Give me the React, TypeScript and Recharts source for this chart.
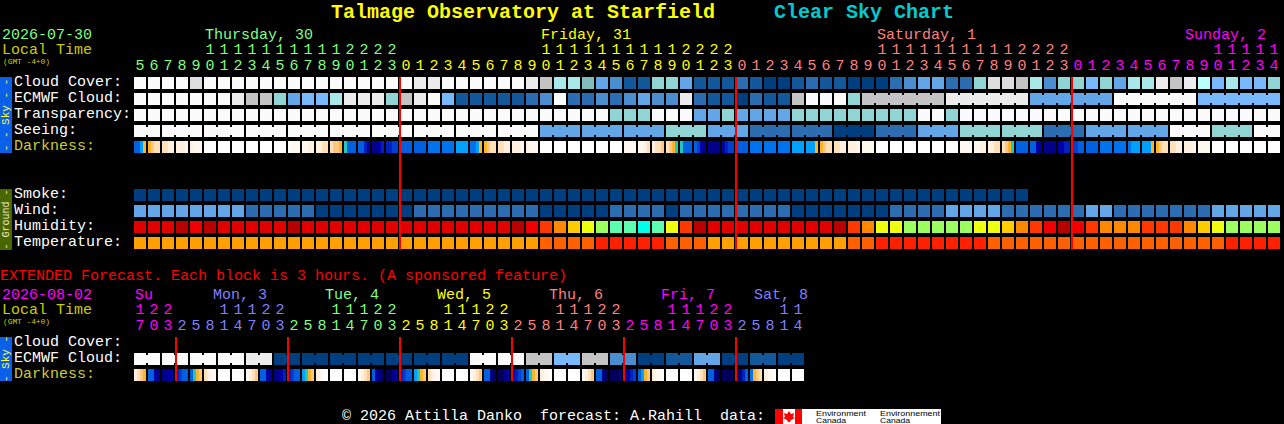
import { ScatterChart, Scatter, XAxis, YAxis } from "recharts";

// hour labels, one per block
const mainHours = [
  5, 6, 7, 8, 9, 10, 11, 12, 13, 14, 15, 16, 17, 18, 19, 20, 21, 22, 23,
  0, 1, 2, 3, 4, 5, 6, 7, 8, 9, 10, 11, 12, 13, 14, 15, 16, 17, 18, 19, 20, 21, 22, 23,
  0, 1, 2, 3, 4, 5, 6, 7, 8, 9, 10, 11, 12, 13, 14, 15, 16, 17, 18, 19, 20, 21, 22, 23,
  0, 1, 2, 3, 4, 5, 6, 7, 8, 9, 10, 11, 12, 13, 14,
];
const extHours = [
  17, 20, 23,
  2, 5, 8, 11, 14, 17, 20, 23,
  2, 5, 8, 11, 14, 17, 20, 23,
  2, 5, 8, 11, 14, 17, 20, 23,
  2, 5, 8, 11, 14, 17, 20, 23,
  2, 5, 8, 11, 14, 17, 20, 23,
  2, 5, 8, 11, 14,
];

const mainDayNames = ["Thursday, 30", "Friday, 31", "Saturday, 1", "Sunday, 2"];
const mainDayStarts = [0, 19, 43, 67];
const mainDayColors = ["#80ff80", "#ffff00", "#ff8080", "#ff00ff"];
const mainDayX = [205, 541, 877, 1185];

const extDayNames = ["Su", "Mon, 3", "Tue, 4", "Wed, 5", "Thu, 6", "Fri, 7", "Sat, 8"];
const extDayStarts = [0, 3, 11, 19, 27, 35, 43];
const extDayColors = ["#ff00ff", "#8080ff", "#80ff80", "#ffff00", "#ff8080", "#ff00ff", "#8080ff"];
const extDayX = [135, 213, 325, 437, 549, 661, 754];

// midnights, as block indexes
const mainMidnights = [19, 43, 67];
const extMidnights = [3, 11, 19, 27, 35, 43];

const skyColors = [
  "#003f7f", "#13589a", "#2c6cb0", "#4b8ed0", "#63a6e8", "#77b9fc", "#90d4d4",
  "#a8e8e8", "#c4c4c4", "#ececec", "#fbfbfb", "#80bcbc", "#b8ffff", "#dddddd",
];
const humidityColors = [
  "#b80000", "#e00000", "#f00000", "#ff3800", "#ff8800", "#ffcc00", "#eeff10", "#9cff60", "#5cffb0", "#00ffe8",
];
const temperatureColors = ["#ffa000", "#ff6000", "#ff2000"];
const darknessColors = [
  "#00005a", "#000088", "#0000a8", "#0020c0", "#0040d0", "#0060e0", "#0072ee", "#00a0ff",
  "#20c8c0", "#ffb428", "#ffc880", "#ffe0b8", "#fff0e0", "#fff8f0", "#ffffff",
];

const cloudCover = [
  10, 10, 10, 10, 13, 10, 10, 10, 10, 10,
  10, 10, 10, 10, 10, 10, 10, 10, 10, 10,
  9, 9, 10, 10, 10, 10, 10, 10, 9, 8,
  7, 7, 11, 4, 3, 1, 1, 6, 6, 4,
  1, 1, 1, 2, 1, 0, 0, 1, 2, 1,
  1, 0, 0, 0, 2, 3, 4, 4, 2, 2,
  6, 13, 13, 8, 7, 3, 6, 6, 5, 6,
  4, 7, 7, 9, 8, 9, 12, 5, 7, 5,
  5, 6,
];
const ecmwfCloud = [
  10, 10, 10, 10, 10, 10, 10, 9, 8, 8,
  6, 4, 5, 5, 7, 9, 9, 9, 6, 8,
  9, 10, 5, 1, 1, 1, 1, 1, 2, 3,
  10, 2, 2, 3, 2, 3, 4, 3, 3, 9,
  2, 1, 1, 0, 2, 1, 1, 8, 10, 10,
  10, 6, 8, 8, 8, 8, 8, 8, 9, 9,
  9, 9, 9, 9, 4, 4, 4, 4, 4, 4,
  10, 10, 10, 10, 10, 10, 5, 5, 5, 5,
  5, 5,
];
const transparency = [
  10, 10, 10, 10, 10, 10, 10, 10, 10, 10,
  10, 10, 10, 10, 10, 10, 10, 10, 10, 10,
  10, 10, 10, 10, 10, 10, 10, 10, 10, 10,
  10, 10, 10, 10, 6, 6, 6, 10, 10, 10,
  4, 4, 6, 4, 4, 4, 4, 6, 6, 6,
  6, 6, 6, 6, 6, 6, 10, 10, 6, 10,
  10, 10, 10, 10, 10, 10, 10, 10, 10, 10,
  10, 10, 10, 10, 10, 10, 10, 10, 10, 10,
  10, 10,
];
const seeing = [
  10, 10, 10, 10, 10, 10, 10, 10, 10, 10,
  10, 10, 10, 10, 10, 10, 10, 10, 10, 10,
  10, 10, 10, 10, 10, 10, 10, 10, 10, 4,
  4, 4, 4, 4, 4, 4, 4, 4, 6, 6,
  6, 4, 4, 4, 2, 2, 2, 2, 2, 2,
  0, 0, 0, 2, 2, 2, 4, 4, 4, 6,
  6, 6, 6, 6, 6, 2, 2, 2, 4, 4,
  4, 4, 4, 4, 10, 10, 10, 6, 6, 6,
  10, 10,
];
const darkness = [
  "5579", "9abb", "bbcc", "cccd", "cddd", "eeee", "eeee", "eeee", "eeee", "eeee",
  "eeee", "eddd", "ddcc", "ccbb", "baa9", "8555", "5532", "1123", "3344", "5555",
  "5555", "6666", "6666", "7777", "6679", "9abb", "bbcc", "cccd", "cddd", "eeee",
  "eeee", "eeee", "eeee", "eeee", "eeee", "dddd", "ddcb", "cbba", "ba98", "8555",
  "5421", "1111", "2344", "5555", "6666", "6666", "6666", "7777", "7779", "9abb",
  "bbcc", "cccd", "dddd", "eeee", "eeee", "eeee", "eeee", "eeee", "eeee", "dddd",
  "ddcc", "ccbb", "ba98", "5555", "5521", "1111", "2233", "4455", "5555", "6666",
  "6666", "6777", "7779", "9abb", "bbcc", "cccd", "dddd", "eeee", "eeee", "eeee",
  "eeee", "eeee",
];
const smoke = [
  0, 0, 0, 0, 0, 0, 0, 0, 0, 0, 0, 0, 0, 0, 0, 0,
  0, 0, 0, 0, 0, 0, 0, 0, 0, 0, 0, 0, 0, 0, 0, 0,
  0, 0, 0, 0, 0, 0, 0, 0, 0, 0, 0, 0, 0, 0, 0, 0,
  0, 0, 0, 0, 0, 0, 0, 0, 0, 0, 0, 0, 0, 0, 0, 0,
];
const wind = [
  4, 4, 4, 4, 4, 4, 4, 4, 2, 2,
  2, 2, 2, 0, 0, 0, 0, 0, 0, 0,
  2, 2, 2, 2, 2, 2, 2, 2, 2, 0,
  0, 0, 0, 0, 2, 2, 2, 2, 0, 2,
  2, 2, 2, 2, 2, 2, 2, 0, 0, 0,
  0, 0, 0, 0, 2, 2, 2, 2, 4, 4,
  4, 4, 2, 2, 2, 2, 2, 2, 4, 4,
  2, 2, 2, 2, 2, 2, 2, 4, 4, 4,
  4, 4,
];
const humidity = [
  1, 1, 1, 0, 2, 0, 1, 1, 1, 1,
  1, 0, 1, 1, 1, 1, 1, 1, 1, 1,
  1, 1, 1, 1, 1, 1, 1, 0, 2, 3,
  4, 5, 6, 7, 8, 8, 9, 8, 6, 3,
  0, 1, 1, 1, 1, 1, 1, 1, 1, 1,
  0, 3, 4, 6, 6, 7, 7, 7, 7, 7,
  6, 6, 5, 4, 3, 2, 0, 2, 3, 4,
  4, 4, 3, 3, 3, 4, 5, 6, 7, 7,
  7, 7,
];
const temperature = [
  0, 0, 0, 0, 0, 0, 0, 0, 0, 0,
  0, 0, 0, 0, 0, 0, 0, 0, 0, 0,
  0, 0, 0, 0, 0, 0, 0, 0, 0, 1,
  1, 1, 1, 2, 2, 2, 2, 2, 1, 1,
  1, 0, 0, 0, 0, 0, 0, 0, 0, 0,
  0, 1, 1, 2, 2, 2, 2, 2, 2, 2,
  2, 1, 1, 1, 1, 1, 1, 1, 1, 1,
  1, 1, 1, 1, 1, 1, 1, 1, 2, 2,
  2, 2,
];

const extEcmwf = [
  10, 10, 10, 10, 10, 10, 10, 10, 9, 9,
  0, 0, 0, 0, 0, 0, 0, 0, 0, 0,
  0, 0, 0, 0, 10, 10, 10, 10, 8, 8,
  5, 5, 8, 8, 3, 3, 0, 0, 1, 1,
  4, 4, 0, 0, 1, 1, 0, 0,
];
const extDarkness = [
  "cba9", "5521", "1122", "3455", "589a", "bcdd", "eeee", "eeee", "dcba", "5521",
  "1123", "3455", "789a", "cdee", "eeee", "eeee", "dcba", "5210", "0012", "3455",
  "789a", "bcdd", "eeee", "eeee", "dcba", "5510", "0012", "2345", "589a", "cdde",
  "eeee", "eeee", "dcba", "5510", "0001", "1234", "579a", "cdde", "eeee", "eeee",
  "dcba", "5510", "0000", "0135", "69ab", "cdde", "eeee", "eeee",
];

const mainLabels: Record<number, string> = {
  0: "Cloud Cover:", 1: "ECMWF Cloud:", 2: "Transparency:", 3: "Seeing:", 4: "Darkness:",
  7: "Smoke:", 8: "Wind:", 9: "Humidity:", 10: "Temperature:",
};
const extLabels: Record<number, string> = { 0: "Cloud Cover:", 1: "ECMWF Cloud:", 2: "Darkness:" };

const MONO = "'Liberation Mono', monospace";
const BLOCK = 12;
const PITCH = 14;

// blocks that share a forecast step are tied together with a thinner bridge
function toPoints(row: number, values: number[], colors: string[], from = Infinity, span = 1) {
  return values.map((v, i) => ({
    i,
    row,
    fill: colors[v],
    join: i >= from && i < values.length - 1 && (i - from + 1) % span !== 0,
  }));
}

function toDarkPoints(row: number, values: string[]) {
  return values.map((v, i) => ({
    i,
    row,
    stripes: v.split("").map((c) => darknessColors[parseInt(c, 16)]),
  }));
}

function BlockShape(props: any) {
  const { cx, cy, payload } = props;
  return (
    <g>
      <rect x={cx} y={cy} width={BLOCK} height={BLOCK} fill={payload.fill} />
      {payload.join && <rect x={cx + BLOCK} y={cy + 2} width={PITCH - BLOCK} height={BLOCK - 4} fill={payload.fill} />}
    </g>
  );
}

function DarkShape(props: any) {
  const { cx, cy, payload } = props;
  const w = BLOCK / payload.stripes.length;
  return (
    <g>
      {payload.stripes.map((c: string, k: number) => (
        <rect key={k} x={cx + k * w} y={cy} width={w} height={BLOCK} fill={c} shapeRendering="crispEdges" />
      ))}
    </g>
  );
}

const NoDot = () => <g />;

function dayColor(i: number, starts: number[], colors: string[]) {
  let c = colors[0];
  starts.forEach((s, k) => {
    if (i >= s) c = colors[k];
  });
  return c;
}

function Strip(props: {
  top: number;
  headerHeight: number;
  rows: number;
  lineEnd: number;
  hours: number[];
  starts: number[];
  colors: string[];
  midnights: number[];
  labels: Record<number, string>;
  children: any;
}) {
  const { top, headerHeight, rows, lineEnd, hours, starts, colors, midnights, labels } = props;
  const hourTick = (t: any) => {
    const i = t.payload.value;
    if (i >= hours.length) return <g />;
    const h = hours[i];
    const fill = dayColor(i, starts, colors);
    return (
      <g>
        {h >= 10 && (
          <text x={t.x + 6} y={headerHeight - 23} textAnchor="middle" fill={fill} fontFamily={MONO} fontSize={15}>
            {Math.floor(h / 10)}
          </text>
        )}
        <text x={t.x + 6} y={headerHeight - 7} textAnchor="middle" fill={fill} fontFamily={MONO} fontSize={15}>
          {h % 10}
        </text>
      </g>
    );
  };
  const rowTick = (t: any) => {
    const label = labels[t.payload.value];
    return (
      <text x={14} y={t.y + 9} fill={label === "Darkness:" ? "#cccc33" : "#ffffff"} fontFamily={MONO} fontSize={15}>
        {label}
      </text>
    );
  };
  return (
    <div style={{ position: "absolute", left: 0, top }}>
      <ScatterChart
        width={1284}
        height={headerHeight + rows * 16}
        margin={{ top: 0, right: 2, bottom: 0, left: 0 }}
      >
        <XAxis
          type="number"
          dataKey="i"
          domain={[0, 82]}
          orientation="top"
          height={headerHeight}
          ticks={hours.map((_, i) => i)}
          interval={0}
          tick={hourTick}
          axisLine={false}
          tickLine={false}
        />
        <YAxis
          type="number"
          dataKey="row"
          domain={[0, rows]}
          reversed
          width={134}
          ticks={Object.keys(labels).map(Number)}
          interval={0}
          tick={rowTick}
          axisLine={false}
          tickLine={false}
        />
        {props.children}
        {midnights.map((m) => (
          <Scatter
            key={m}
            data={[
              { i: m, row: 0 },
              { i: m, row: lineEnd },
            ]}
            line={{ stroke: "#ff0000", strokeWidth: 2 }}
            shape={NoDot}
            isAnimationActive={false}
          />
        ))}
      </ScatterChart>
    </div>
  );
}

function Label(props: { x: number; y: number; fill: string; size?: number; bold?: boolean; children: any; width?: number }) {
  return (
    <text
      x={props.x}
      y={props.y}
      fill={props.fill}
      fontFamily={MONO}
      fontSize={props.size ?? 15}
      fontWeight={props.bold ? 700 : 400}
      textLength={props.width}
      style={{ whiteSpace: "pre" }}
    >
      {props.children}
    </text>
  );
}

function SideTag(props: { y: number; height: number; fill: string; color: string; text: string; size: number }) {
  const cy = props.y + props.height / 2;
  return (
    <g>
      <rect x={0} y={props.y} width={12} height={props.height} fill={props.fill} />
      <text
        x={6}
        y={cy}
        transform={`rotate(-90 6 ${cy})`}
        textAnchor="middle"
        dominantBaseline="central"
        fill={props.color}
        fontFamily={MONO}
        fontSize={props.size}
        style={{ whiteSpace: "pre" }}
      >
        {props.text}
      </text>
    </g>
  );
}

function LogoText(props: { x: number; y: number; width: number; children: any }) {
  return (
    <text
      x={props.x}
      y={props.y}
      fontFamily="'Liberation Sans'"
      fontSize={8}
      textLength={props.width}
      lengthAdjust="spacingAndGlyphs"
      fill="#000"
    >
      {props.children}
    </text>
  );
}

export default function App() {
  return (
    <div style={{ position: "fixed", left: 0, top: 0, width: 1284, height: 424, background: "#000", overflow: "hidden" }}>
      <svg width={1284} height={424} style={{ position: "absolute", left: 0, top: 0 }}>
        <Label x={331} y={18} fill="#ffff00" size={20} bold>Talmage Observatory at Starfield</Label>
        <Label x={774} y={18} fill="#00ccd0" size={20} bold>Clear Sky Chart</Label>

        <Label x={2} y={39} fill="#80ff80">2026-07-30</Label>
        <Label x={2} y={54} fill="#cccc00">Local Time</Label>
        <Label x={3} y={64} fill="#cccc00" size={8} width={47}>(GMT -4+0)</Label>
        {mainDayNames.map((d, k) => (
          <Label key={d} x={mainDayX[k]} y={39} fill={mainDayColors[k]}>{d}</Label>
        ))}

        <SideTag y={77} height={76} fill="#0a60e8" color="#ffff40" text="- - Sky - -" size={11} />
        <SideTag y={189} height={61} fill="#4a6600" color="#f0f0c0" text="- Ground -" size={10} />
        <SideTag y={337} height={44} fill="#0a60e8" color="#ffff40" text="- Sky -" size={11} />

        <Label x={0} y={280} fill="#ff0000">EXTENDED Forecast. Each block is 3 hours. (A sponsored feature)</Label>
        <Label x={2} y={299} fill="#ff00ff">2026-08-02</Label>
        <Label x={2} y={314} fill="#cccc00">Local Time</Label>
        <Label x={3} y={324} fill="#cccc00" size={8} width={47}>(GMT -4+0)</Label>
        {extDayNames.map((d, k) => (
          <Label key={d} x={extDayX[k]} y={299} fill={extDayColors[k]}>{d}</Label>
        ))}

        <Label x={342} y={420} fill="#ffffff">© 2026 Attilla Danko  forecast: A.Rahill  data:</Label>
        <rect x={775} y={409} width={166} height={15} fill="#ffffff" />
        <rect x={775} y={409} width={8} height={15} fill="#ff0000" />
        <rect x={795} y={409} width={7} height={15} fill="#ff0000" />
        <polygon points="789,411 791,414 794,413 793,417 795,418 791,420 790,422 788,422 787,420 783,418 785,417 784,413 787,414" fill="#ff0000" />
        <LogoText x={816} y={416} width={50}>Environment</LogoText>
        <LogoText x={816} y={423} width={30}>Canada</LogoText>
        <LogoText x={880} y={416} width={60}>Environnement</LogoText>
        <LogoText x={880} y={423} width={30}>Canada</LogoText>
      </svg>

      <Strip
        top={0}
        headerHeight={77}
        rows={11}
        lineEnd={10.8}
        hours={mainHours}
        starts={mainDayStarts}
        colors={mainDayColors}
        midnights={mainMidnights}
        labels={mainLabels}
      >
        <Scatter data={toPoints(0, cloudCover, skyColors)} shape={BlockShape} isAnimationActive={false} />
        <Scatter data={toPoints(1, ecmwfCloud, skyColors, 52, 6)} shape={BlockShape} isAnimationActive={false} />
        <Scatter data={toPoints(2, transparency, skyColors)} shape={BlockShape} isAnimationActive={false} />
        <Scatter data={toPoints(3, seeing, skyColors, -1, 3)} shape={BlockShape} isAnimationActive={false} />
        <Scatter data={toDarkPoints(4, darkness)} shape={DarkShape} isAnimationActive={false} />
        <Scatter data={toPoints(7, smoke, skyColors)} shape={BlockShape} isAnimationActive={false} />
        <Scatter data={toPoints(8, wind, skyColors)} shape={BlockShape} isAnimationActive={false} />
        <Scatter data={toPoints(9, humidity, humidityColors)} shape={BlockShape} isAnimationActive={false} />
        <Scatter data={toPoints(10, temperature, temperatureColors)} shape={BlockShape} isAnimationActive={false} />
      </Strip>

      <Strip
        top={280}
        headerHeight={57}
        rows={3}
        lineEnd={2.75}
        hours={extHours}
        starts={extDayStarts}
        colors={extDayColors}
        midnights={extMidnights}
        labels={extLabels}
      >
        <Scatter data={toPoints(1, extEcmwf, skyColors, 0, 2)} shape={BlockShape} isAnimationActive={false} />
        <Scatter data={toDarkPoints(2, extDarkness)} shape={DarkShape} isAnimationActive={false} />
      </Strip>
    </div>
  );
}
